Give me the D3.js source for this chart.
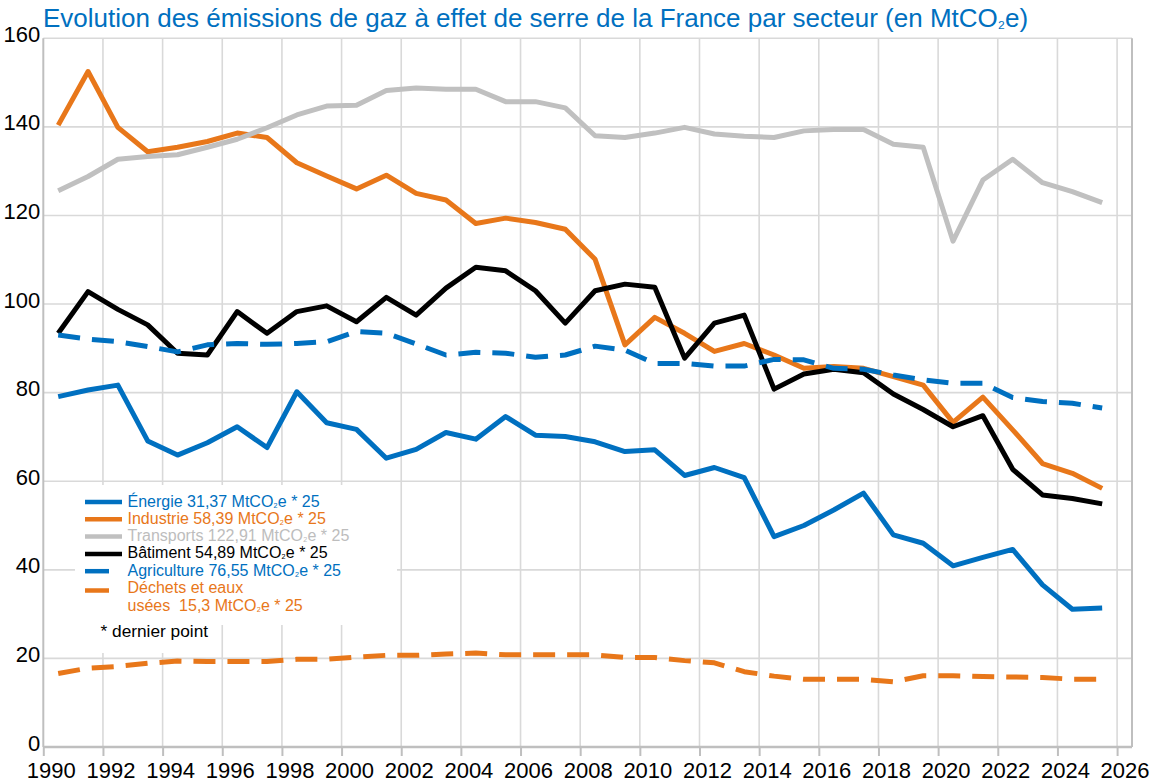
<!DOCTYPE html>
<html lang="fr">
<head>
<meta charset="utf-8">
<script src="https://cdn.jsdelivr.net/npm/d3@7"></script>
<style>
  html, body { margin: 0; padding: 0; background: #ffffff; }
  svg { display: block; font-family: "Liberation Sans", Arial, sans-serif; }
</style>
</head>
<body>
<script>
// Émissions de gaz à effet de serre de la France par secteur (MtCO2e)
const years = [1990, 1991, 1992, 1993, 1994, 1995, 1996, 1997, 1998, 1999,
               2000, 2001, 2002, 2003, 2004, 2005, 2006, 2007, 2008, 2009,
               2010, 2011, 2012, 2013, 2014, 2015, 2016, 2017, 2018, 2019,
               2020, 2021, 2022, 2023, 2024, 2025];

const energie = [79.1, 80.6, 81.7, 69.1, 65.9, 68.7, 72.3, 67.6, 80.2, 73.2,
                 71.7, 65.2, 67.2, 71.0, 69.5, 74.6, 70.4, 70.1, 68.9, 66.7,
                 67.1, 61.3, 63.1, 60.8, 47.5, 50.0, 53.5, 57.3, 47.9, 46.0,
                 40.9, 42.8, 44.6, 36.6, 31.1, 31.37];

const industrie = [140.4, 152.5, 139.9, 134.4, 135.4, 136.7, 138.6, 137.6, 131.9, 128.9,
                   126.0, 129.1, 125.0, 123.5, 118.2, 119.4, 118.4, 116.9, 110.1, 90.8,
                   97.0, 93.4, 89.3, 91.1, 88.5, 85.5, 85.9, 85.5, 83.6, 81.7,
                   73.3, 79.0, 71.6, 64.0, 61.8, 58.39];

const transports = [125.6, 128.8, 132.7, 133.3, 133.7, 135.4, 137.2, 139.8, 142.7, 144.7,
                    144.9, 148.2, 148.8, 148.5, 148.5, 145.7, 145.7, 144.3, 138.0, 137.6,
                    138.6, 139.9, 138.4, 137.9, 137.6, 139.1, 139.4, 139.4, 136.1, 135.4,
                    114.2, 128.0, 132.7, 127.4, 125.4, 122.91];

const batiment = [93.4, 102.8, 98.8, 95.3, 88.9, 88.5, 98.3, 93.4, 98.3, 99.6,
                  96.0, 101.5, 97.5, 103.6, 108.3, 107.5, 103.0, 95.7, 103.0, 104.5,
                  103.8, 87.8, 95.7, 97.5, 80.8, 84.2, 85.3, 84.5, 79.7, 76.2,
                  72.3, 74.8, 62.7, 56.9, 56.1, 54.89];

const agriculture = [93.0, 92.1, 91.5, 90.4, 89.2, 90.8, 91.1, 90.9, 91.1, 91.5,
                     93.8, 93.4, 91.0, 88.5, 89.1, 88.9, 88.0, 88.5, 90.5, 89.6,
                     86.6, 86.6, 86.0, 86.0, 87.5, 87.4, 85.5, 85.3, 84.0, 82.9,
                     82.1, 82.1, 78.9, 78.0, 77.6, 76.55];

const dechets = [16.6, 17.8, 18.2, 18.9, 19.4, 19.3, 19.3, 19.3, 19.8, 19.8,
                 20.3, 20.7, 20.7, 21.0, 21.2, 20.8, 20.8, 20.8, 20.8, 20.2,
                 20.2, 19.5, 19.0, 17.0, 16.0, 15.3, 15.3, 15.3, 14.7, 16.1,
                 16.1, 15.9, 15.8, 15.7, 15.3, 15.3];

const legendLabels = [
  ["Énergie 31,37 MtCO\u2082e * 25"],
  ["Industrie 58,39 MtCO\u2082e * 25"],
  ["Transports 122,91 MtCO\u2082e * 25"],
  ["Bâtiment 54,89 MtCO\u2082e * 25"],
  ["Agriculture 76,55 MtCO\u2082e * 25"],
  ["Déchets et eaux", "usées\u00a0\u00a015,3 MtCO\u2082e * 25"]
];

const yTicks = [0, 20, 40, 60, 80, 100, 120, 140, 160];
const xTicks = [1990, 1992, 1994, 1996, 1998, 2000, 2002, 2004, 2006, 2008,
                2010, 2012, 2014, 2016, 2018, 2020, 2022, 2024, 2026];

const titleText = "Evolution des émissions de gaz à effet de serre de la France par secteur (en MtCO\u2082e)";
const noteText = "* dernier point";

// Styles per series
const BLUE = "#0070C0", ORANGE = "#E8771A", GREY = "#C0C0C0", BLACK = "#000000";
const series = [
  { values: energie,     color: BLUE,   dash: null,    text: BLUE },
  { values: industrie,   color: ORANGE, dash: null,    text: ORANGE },
  { values: transports,  color: GREY,   dash: null,    text: "#BDBDBD" },
  { values: batiment,    color: BLACK,  dash: null,    text: BLACK },
  { values: agriculture, color: BLUE,   dash: "22,12", text: BLUE },
  { values: dechets,     color: ORANGE, dash: "22,12", text: ORANGE }
];

const W = 1167, H = 784;
const plotL = 43.3, plotR = 1132, plotT = 38.3, plotB = 747;

const svg = d3.select("body").append("svg")
  .attr("width", W).attr("height", H);

const x = d3.scaleLinear().domain([1990, 2026.5]).range([plotL, plotR]);
const y = d3.scaleLinear().domain([0, 160]).range([plotB, plotT]);

// Writes a label into a <text>, drawing the subscript "₂" smaller
function writeLabel(textSel, str) {
  str.split(/(\u2082)/).forEach(part => {
    if (!part) return;
    const t = textSel.append("tspan").text(part);
    if (part === "\u2082") t.attr("font-size", "72%");
  });
}

// Title
writeLabel(
  svg.append("text")
    .attr("x", 43).attr("y", 27)
    .attr("fill", BLUE)
    .attr("font-size", 26),
  titleText);

// Grid
const grid = svg.append("g").attr("stroke", "#D9D9D9").attr("stroke-width", 1.6);
grid.selectAll("line.h").data(yTicks.filter(d => d > 0)).join("line")
  .attr("class", "h")
  .attr("x1", plotL).attr("x2", plotR)
  .attr("y1", d => y(d)).attr("y2", d => y(d));
grid.selectAll("line.v").data(xTicks.filter(d => d > 1990)).join("line")
  .attr("class", "v")
  .attr("y1", plotT).attr("y2", plotB)
  .attr("x1", d => x(d)).attr("x2", d => x(d));

// Frame: left axis, right edge
const frame = svg.append("g").attr("stroke", "#BFBFBF").attr("stroke-width", 2);
frame.append("line").attr("x1", plotL).attr("x2", plotL).attr("y1", plotT).attr("y2", plotB);
frame.append("line").attr("x1", plotR).attr("x2", plotR).attr("y1", plotT).attr("y2", plotB);

// X axis
const xAxis = svg.append("g")
  .attr("transform", `translate(0,${plotB})`)
  .call(d3.axisBottom(x).tickValues(xTicks).tickFormat(d3.format("d")).tickSize(9).tickSizeOuter(0));
xAxis.select(".domain").attr("stroke", "#BFBFBF").attr("stroke-width", 2.6)
  .attr("d", `M${plotL},0H${plotR}`);
xAxis.selectAll(".tick line").attr("stroke", "#BFBFBF").attr("stroke-width", 2);
xAxis.selectAll(".tick text")
  .attr("y", 31).attr("dy", null).attr("dx", 7.5)
  .attr("fill", "#000").attr("font-size", 22)
  .attr("font-family", "Liberation Sans, Arial, sans-serif");

// Y axis
const yAxis = svg.append("g")
  .attr("transform", `translate(${plotL},0)`)
  .call(d3.axisLeft(y).tickValues(yTicks).tickSize(0).tickPadding(0));
yAxis.select(".domain").remove();
yAxis.selectAll(".tick text")
  .attr("x", -3).attr("y", 3).attr("dy", null)
  .attr("fill", "#000").attr("font-size", 22)
  .attr("font-family", "Liberation Sans, Arial, sans-serif");

// Legend backgrounds (drawn over the grid)
svg.append("rect").attr("x", 75).attr("y", 485).attr("width", 322).attr("height", 140).attr("fill", "#fff");
svg.append("rect").attr("x", 88).attr("y", 612).attr("width", 127).attr("height", 41).attr("fill", "#fff");

// Series lines
const line = d3.line()
  .x((d, i) => x(years[i] + 0.5))
  .y(d => y(d));

svg.append("g").selectAll("path").data(series).join("path")
  .attr("d", s => line(s.values))
  .attr("fill", "none")
  .attr("stroke", s => s.color)
  .attr("stroke-width", 5)
  .attr("stroke-linejoin", "round")
  .attr("stroke-dasharray", s => s.dash);

// Legend
const legend = svg.append("g");
const rowY = i => 506.5 + i * 17.3;
series.forEach((s, i) => {
  const yy = rowY(i);
  const sy = yy - 4.5 + (i === 5 ? 2 : 0);
  legend.append("line")
    .attr("x1", 85).attr("x2", s.dash ? 109 : 122)
    .attr("y1", sy).attr("y2", sy)
    .attr("stroke", s.color).attr("stroke-width", 4.5);
  legendLabels[i].forEach((t, k) => {
    writeLabel(
      legend.append("text")
        .attr("x", 127.5).attr("y", yy + k * 18)
        .attr("fill", s.text).attr("font-size", 16),
      t);
  });
});
legend.append("text")
  .attr("x", 100.5).attr("y", 636.5)
  .attr("fill", "#000").attr("font-size", 17.3)
  .text(noteText);
</script>
</body>
</html>
